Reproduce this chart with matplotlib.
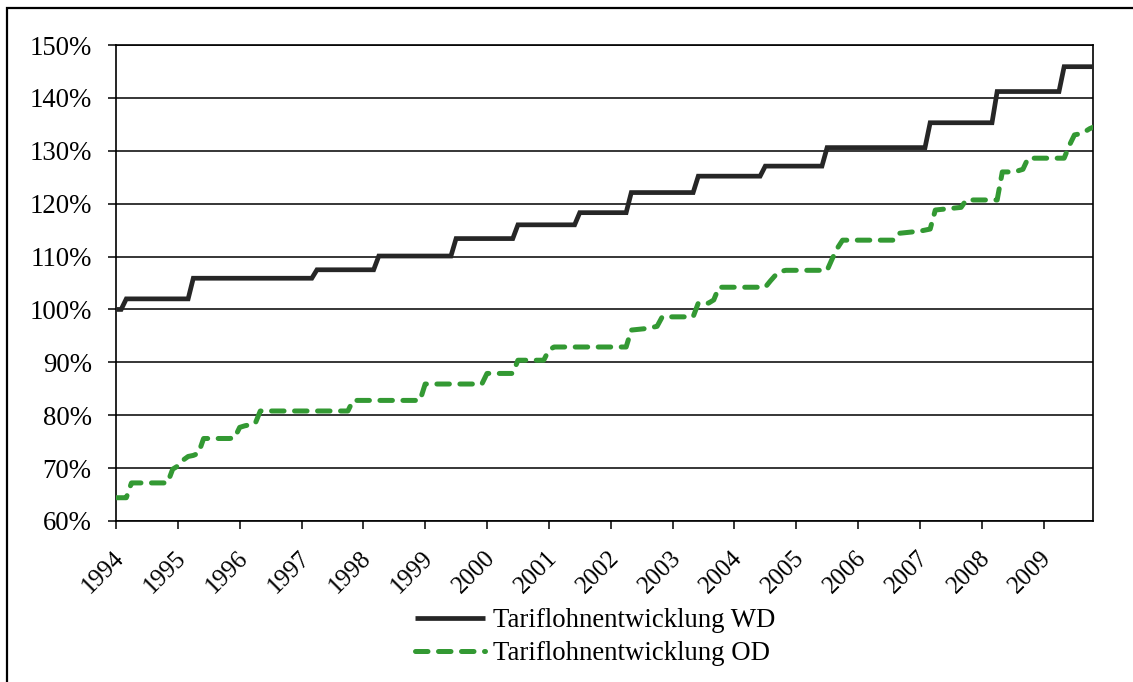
import numpy as np
import matplotlib
matplotlib.use("Agg")
import matplotlib.pyplot as plt
from matplotlib.patches import Rectangle
from matplotlib.transforms import ScaledTranslation

# ---- data: monthly index levels (Jan 1994 .. Nov 2009), in percent ----
wd_1994 = [100.0, 100.0] + [102.0] * 10
wd_1995 = [102.0] * 3 + [105.9] * 9
wd_1996 = [105.9] * 12
wd_1997 = [105.9] * 3 + [107.5] * 9
wd_1998 = [107.5] * 3 + [110.1] * 9
wd_1999 = [110.1] * 6 + [113.4] * 6
wd_2000 = [113.4] * 6 + [116.0] * 6
wd_2001 = [116.0] * 6 + [118.3] * 6
wd_2002 = [118.3] * 4 + [122.1] * 8
wd_2003 = [122.1] * 5 + [125.2] * 7
wd_2004 = [125.2] * 6 + [127.1] * 6
wd_2005 = [127.1] * 6 + [130.6] * 6
wd_2006 = [130.6] * 12
wd_2007 = [130.6] * 2 + [135.3] * 10
wd_2008 = [135.3] * 3 + [141.2] * 9
wd_2009 = [141.2] * 4 + [145.9] * 7

od_1994 = [64.4] * 3 + [67.2] * 8 + [69.8]
od_1995 = [70.4, 71.5, 72.2, 72.4, 72.8] + [75.6] * 6 + [75.7]
od_1996 = [77.7, 78.0, 78.2, 78.4] + [80.8] * 8
od_1997 = [80.8] * 10 + [82.8] * 2
od_1998 = [82.8] * 12
od_1999 = [85.9] * 12
od_2000 = [87.9] * 6 + [90.4] * 6
od_2001 = [92.3] + [92.9] * 11
od_2002 = [92.9] * 4 + [96.1, 96.2, 96.3, 96.4, 96.6, 96.8] + [98.6] * 2
od_2003 = [98.6] * 5 + [101.2] * 3 + [101.8] + [104.2] * 3
od_2004 = [104.2] * 7 + [105.4, 106.5, 107.2] + [107.4] * 2
od_2005 = [107.4] * 7 + [109.6, 111.6] + [113.1] * 3
od_2006 = [113.1] * 8 + [114.4, 114.5, 114.6, 114.7]
od_2007 = [114.8, 115.0, 115.2, 118.8, 118.9, 119.0, 119.1, 119.2, 119.3] + [120.7] * 3
od_2008 = [120.7] * 4 + [126.0] * 3 + [126.2, 126.5] + [128.6] * 3
od_2009 = [128.6] * 5 + [131.0, 133.0, 133.2, 133.6, 134.2, 134.6]

wd = (wd_1994 + wd_1995 + wd_1996 + wd_1997 + wd_1998 + wd_1999 + wd_2000 + wd_2001
      + wd_2002 + wd_2003 + wd_2004 + wd_2005 + wd_2006 + wd_2007 + wd_2008 + wd_2009)
od = (od_1994 + od_1995 + od_1996 + od_1997 + od_1998 + od_1999 + od_2000 + od_2001
      + od_2002 + od_2003 + od_2004 + od_2005 + od_2006 + od_2007 + od_2008 + od_2009)

years = list(range(1994, 2010))
year_labels = [str(y) for y in years]
y_ticks = [60, 70, 80, 90, 100, 110, 120, 130, 140, 150]
labels = ["Tariflohnentwicklung WD", "Tariflohnentwicklung OD"]

months = 1994 + np.arange(len(wd)) / 12.0

# ---- figure ----
W, H = 1133, 682
fig = plt.figure(figsize=(W / 100, H / 100), dpi=100)
plt.rcParams['font.family'] = ['Liberation Serif', 'DejaVu Serif']
FS = 19.3
FSX = 17.8

ax = fig.add_axes([116 / W, 1 - 521 / H, (1093 - 116) / W, (521 - 45) / H])

black = '#262626'
green = '#339933'
ax.plot(months, wd, color=black, lw=3.4, solid_capstyle='butt', solid_joinstyle='miter',
        label=labels[0], zorder=3)
ax.plot(months, od, color=green, lw=3.6, dashes=(2.5, 2.1), dash_capstyle='round',
        label=labels[1], zorder=3)

ax.set_xlim(1994, 2009.8)
ax.set_ylim(60, 150)
ax.set_yticks(y_ticks)
ax.set_yticklabels([f"{v}%" for v in y_ticks])
ax.set_xticks(years)
ax.set_xticklabels(year_labels, rotation=45, ha='right', va='top', rotation_mode='anchor')

ax.grid(axis='y', color='black', lw=1.1)
ax.set_axisbelow(True)
for s in ax.spines.values():
    s.set_color('black')
    s.set_linewidth(1.2)
ax.tick_params(axis='y', length=5.5, width=1.1, pad=12, labelsize=FS, direction='out')
ax.tick_params(axis='x', length=5.5, width=1.1, pad=13, labelsize=FSX, direction='out')

shift = ScaledTranslation(-3 / 100, 0, fig.dpi_scale_trans)
for lbl in ax.get_xticklabels():
    lbl.set_transform(lbl.get_transform() + shift)

leg = fig.legend(loc='center', bbox_to_anchor=(595 / W, 1 - 637 / H), frameon=False,
                 fontsize=FS, handlelength=2.6, handletextpad=0.3, labelspacing=0.3)

# outer border
fig.patches.append(Rectangle((7 / W, -0.2), 1.2, 1.2 - 7.5 / H, transform=fig.transFigure,
                             fill=False, lw=1.6, edgecolor='black', clip_on=False))

fig.savefig('out.png', dpi=100)
